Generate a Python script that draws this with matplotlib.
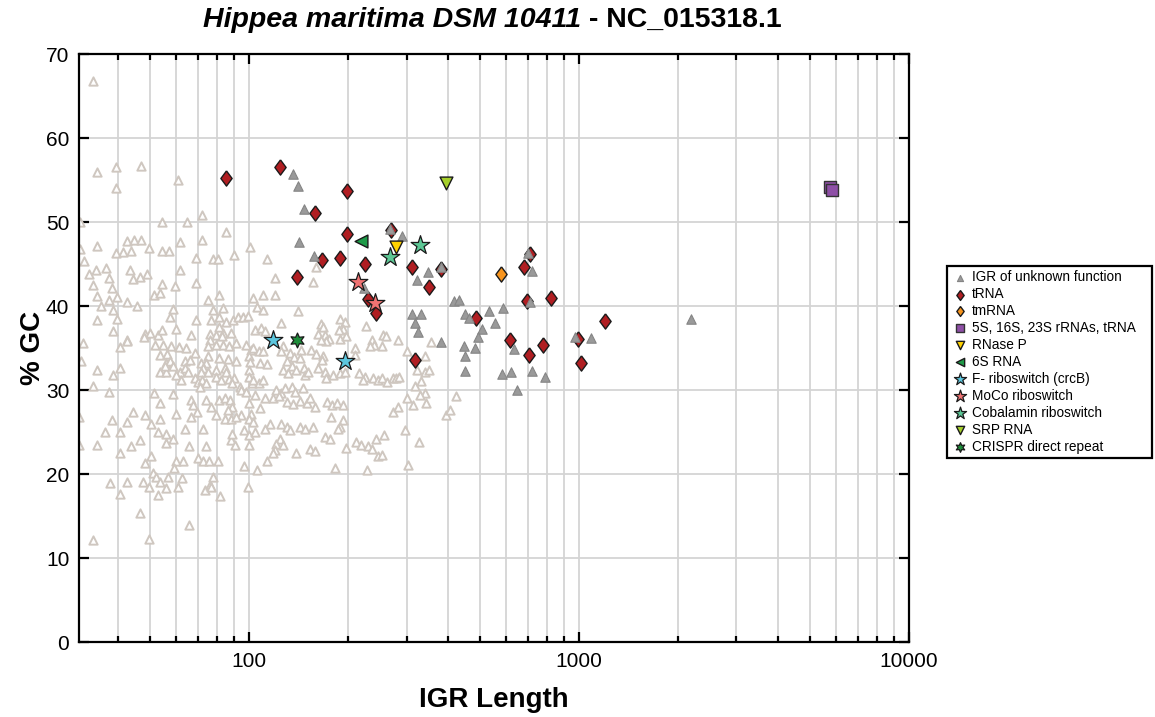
import matplotlib
matplotlib.use("Agg")
import matplotlib.pyplot as plt
from matplotlib.ticker import LogLocator, NullFormatter, FixedLocator, FixedFormatter

plt.rcParams['font.family'] = ['Liberation Sans', 'DejaVu Sans']

# ---------------------------------------------------------------------------
# Intergenic regions (IGR): length (nt) and % GC
# ---------------------------------------------------------------------------
# all intergenic regions of the genome (background cloud)
all_igr = [
    (33.6, 66.8), (34.6, 55.9), (39.6, 56.5), (46.9, 56.7), (39.6, 54.0), (60.9, 55.0),
    (30.7, 50.0), (54.6, 50.0), (65.0, 50.0), (72, 50.8), (84.8, 48.8),
    (30.7, 46.8), (34.6, 47.1), (42.5, 47.7), (44.7, 47.9), (46.9, 47.9),
    (39.6, 46.3), (41.5, 46.4), (43.8, 46.5), (49.7, 46.9), (54.6, 46.5), (57, 46.5),
    (61.9, 47.6), (72, 47.9), (100.7, 47.0),
    (31.6, 45.3), (68.8, 45.7), (77.6, 45.6), (80.4, 45.6), (89.9, 46.1),
    (34.4, 44.3), (36.7, 44.5), (32.7, 43.8), (43.5, 44.3), (37.7, 43.3), (44.5, 43.2),
    (46.6, 43.5), (48.9, 43.8), (61.9, 44.3),
    (33.6, 42.5), (38.5, 42.2), (54.6, 42.6), (59.8, 42.4), (68.8, 42.7),
    (34.6, 41.2), (39.8, 41.1), (37.7, 40.7), (42.7, 40.5), (35.5, 40.0), (45.8, 40.0),
    (51.5, 41.3), (53.8, 41.6), (58.7, 39.7), (75, 40.7), (81, 41.3), (77.6, 39.5),
    (83.2, 39.8), (38.7, 39.5),
    (34.6, 38.3), (39.8, 38.5), (57.7, 38.7), (68.8, 38.3), (76.8, 38.3), (81.3, 38.7),
    (84.8, 38.1), (89.3, 38.3), (92.4, 38.7), (95.6, 38.7), (99.1, 38.8),
    (38.7, 37.0), (48.3, 36.7), (50.1, 36.8), (52.9, 36.6), (54.6, 37.1), (60, 37.3),
    (66.8, 36.5), (76.2, 36.7), (79.3, 36.5), (83.2, 36.8), (88.2, 36.8), (81.3, 37.5),
    (42.5, 36.0),
    (113, 45.6), (119.8, 43.3), (159, 44.7), (156, 42.9),
    (103, 40.9), (105.5, 39.9), (110.5, 41.3), (120, 41.3), (110.5, 39.5),
    (141, 39.4), (125, 38.0), (165, 37.9), (167, 37.5), (188, 38.4), (195, 38.1),
    (193, 37.3), (226, 37.6), (104, 37.2), (109, 37.4), (112, 37.0),
    (48, 36.3), (83, 36.4), (75.9, 36.0), (31.4, 35.6), (42.7, 35.8), (40.6, 35.1),
    (51.9, 35.4), (54.8, 35.4), (58.1, 35.2), (61.4, 35.1), (64.2, 35.0),
    (75, 35.2), (79.5, 35.4), (83.2, 35.4), (86.8, 35.2), (91.5, 35.6), (97.9, 35.4),
    (101.4, 34.8),
    (68.3, 34.4), (53.7, 34.2), (56.4, 34.3), (55.9, 33.2), (57.4, 33.4), (63.9, 33.4),
    (66, 33.6), (75, 34.0), (74, 33.2),
    (81.3, 33.8), (86.2, 33.7), (91.3, 33.4), (100.2, 34.0), (100.7, 33.3),
    (30.9, 33.4), (34.6, 32.4), (38.7, 31.8), (40.6, 32.6),
    (53.7, 32.2), (56.1, 32.2), (58.7, 32.8), (55.5, 32.9),
    (61.7, 32.2), (63.9, 32.6), (65.3, 32.2),
    (71.6, 33.2), (72.6, 32.6), (75, 32.2), (71.6, 32.2),
    (79.5, 32.4), (84.2, 32.6), (85.2, 32.2), (100.2, 32.4),
    (33.6, 30.5), (37.7, 29.8), (51.5, 29.6), (58.7, 29.5),
    (60.1, 31.8), (62.1, 31.2), (68.3, 31.4), (69.9, 30.9), (72, 31.2), (74, 30.8),
    (71.1, 30.4), (79.5, 31.6), (82.2, 31.2), (86.8, 31.3), (89.9, 31.4), (88.8, 30.8),
    (93.5, 30.4), (100.2, 31.6), (102, 30.8), (94.5, 30.0), (97.9, 29.8),
    (66.8, 28.8), (73.8, 28.8), (76.8, 28.0), (81.3, 28.8), (84.2, 29.0), (87.6, 28.8),
    (88.8, 28.0), (86.2, 27.6),
    (53.7, 28.4), (60.1, 27.2), (67.7, 28.2), (69.4, 27.4), (66.8, 26.8),
    (100.2, 28.4), (101.4, 27.2), (94.5, 27.0), (100.2, 26.6), (102.7, 26.2),
    (79.5, 27.0), (84.2, 26.6), (88.2, 26.6), (91.3, 26.8),
    (44.5, 27.4), (48.3, 27.0), (38.5, 26.4), (42.5, 26.2), (50.4, 26.0), (53.7, 26.5),
    (36.5, 25.0), (40.6, 25.0), (52.9, 25.0), (55.9, 24.8), (63.9, 25.4), (72.6, 25.4),
    (88.2, 24.0), (90.9, 23.5), (88.8, 24.8), (96.7, 25.2), (100.2, 24.6), (100.2, 23.5),
    (34.6, 23.5), (43.8, 23.3), (46.6, 24.0), (55.9, 23.7), (58.7, 24.2), (65.7, 23.3),
    (74, 23.3),
    (40.6, 22.5), (50.4, 22.1), (48.3, 21.3),
    (60.1, 21.5), (59, 20.7), (63.1, 21.5),
    (69.9, 21.9), (72.6, 21.5), (75.6, 21.5), (80.4, 21.6), (96.7, 20.9),
    (37.9, 18.9), (42.7, 19.1), (51, 20.1), (52.3, 19.7), (53.7, 19.1), (56.8, 19.7),
    (47.7, 19.1), (49.7, 18.5), (55.9, 18.3), (52.9, 17.5), (60.9, 18.5), (62.5, 19.5),
    (73.3, 18.1), (75.9, 18.7), (77.6, 19.7), (76.8, 18.5), (81.7, 17.4), (99.1, 18.5),
    (40.6, 17.6), (46.6, 15.3), (65.7, 13.9), (33.6, 12.2), (49.7, 12.3),
    (30.5, 26.8), (30.5, 23.5),
    (162, 36.7), (170, 36.5), (175, 36.1), (171, 35.8), (165, 36.0),
    (187, 37.1), (188, 36.1), (197, 36.4),
    (255, 36.5), (260, 36.4), (283, 36.0),
    (235, 36.0), (239, 35.4), (232, 35.2), (252, 35.2), (210, 35.0), (209, 34.2),
    (103, 35.0), (107, 34.6), (110.5, 34.7), (127, 35.2), (125, 34.6),
    (144, 34.8), (154, 34.8), (160, 34.3), (168, 34.0), (166, 33.6), (133, 34.4),
    (137, 33.9), (143, 33.8),
    (108, 33.2), (113, 33.1),
    (130, 33.4), (135, 32.9), (127, 32.4), (131, 32.0), (139, 32.4), (147, 32.6),
    (148, 31.8), (151, 32.2),
    (162, 32.6), (170, 32.2), (180, 31.8), (171, 31.4), (188, 32.0), (195, 32.1),
    (216, 32.0), (224, 31.6), (221, 31.2),
    (237, 31.4), (246, 31.2), (253, 31.4), (262, 31.0), (272, 31.4), (279, 31.4),
    (285, 31.6),
    (103, 31.2), (107, 30.8), (110.5, 31.2),
    (121, 30.0), (125, 29.6), (128, 30.2), (135, 30.4), (138, 29.8), (146, 30.2),
    (112, 29.0), (118.5, 29.0), (123, 29.3), (104, 29.4), (108, 27.8),
    (130, 28.6), (136, 28.3), (143, 28.7), (150, 28.4), (158, 28.0), (153, 29.1),
    (172, 28.6), (178, 28.2), (185, 28.4), (193, 28.2),
    (177, 26.8), (193, 26.4), (188, 25.6),
    (125, 26.0), (130, 25.6), (133, 25.2), (116, 26.0), (112, 25.4), (104, 25.0),
    (143, 25.6), (148, 25.4), (156, 25.6),
    (124, 24.2), (121, 23.6), (127, 23.5), (120, 22.9), (118.5, 22.5), (113, 21.5),
    (105.5, 20.5),
    (153, 23.0), (158, 22.7), (139, 22.5),
    (170, 24.4), (176, 24.2), (186, 25.4), (197, 23.1),
    (211, 23.8), (219, 23.5), (229, 23.3), (235, 23.0), (242, 24.2), (256, 24.6),
    (246, 22.1), (253, 22.3),
    (297, 25.2), (328, 23.8), (304, 21.1), (182, 20.7), (227, 20.5),
    (272, 27.4), (283, 28.0), (344, 28.4), (314, 28.2), (300, 29.0),
    (319, 30.5), (331, 31.1), (342, 32.1), (341, 29.6), (300, 34.6), (323, 32.4),
    (357, 35.7), (342, 34.0), (352, 32.4), (424, 29.3), (395, 27.0), (405, 27.6),
    (330, 29.4),
]
all_igr_len = [p[0] for p in all_igr]
all_igr_gc = [p[1] for p in all_igr]

# IGRs of unknown function
unk_len = [136, 141, 147, 142, 157, 268, 291, 348, 323, 223, 382, 417, 432, 311, 331,
           319, 325, 381, 450, 465, 535, 557, 508, 493, 447, 483, 450, 450, 588, 633,
           586, 624, 720, 791, 648, 975, 1090, 2180, 698, 722, 711]
unk_gc = [55.7, 54.3, 51.5, 47.6, 45.9, 49.2, 48.3, 44.1, 43.1, 42.1, 44.6, 40.6, 40.7,
          39.0, 39.1, 38.0, 36.9, 35.7, 39.1, 38.6, 39.4, 38.0, 37.3, 36.3, 35.2, 35.0,
          34.1, 32.3, 39.8, 34.9, 31.9, 32.2, 32.3, 31.6, 30.0, 36.3, 36.2, 38.4, 46.3,
          44.2, 40.5]

# annotated non-coding RNAs
trna_len = [85, 124, 158, 166, 140, 188, 198, 198, 224, 230, 242, 270, 312, 350, 318,
            488, 382, 711, 682, 696, 823, 617, 707, 780, 996, 1013, 1200]
trna_gc = [55.2, 56.5, 51.1, 45.5, 43.5, 45.7, 53.7, 48.6, 45.0, 40.8, 39.2, 49.1, 44.6,
           42.3, 33.6, 38.6, 44.4, 46.2, 44.6, 40.6, 41.0, 36.0, 34.2, 35.4, 36.1, 33.2,
           38.2]

tmrna_len, tmrna_gc = [578], [43.8]
rrna_len, rrna_gc = [5750, 5850], [54.2, 53.8]
rnasep_len, rnasep_gc = [278], [47.0]
s6_len, s6_gc = [218], [47.7]
fsw_len, fsw_gc = [118, 195], [35.9, 33.5]
moco_len, moco_gc = [214, 240], [42.8, 40.3]
cobal_len, cobal_gc = [268, 330], [45.8, 47.3]
srp_len, srp_gc = [396], [54.6]
crispr_len, crispr_gc = [140], [36.0]

# ---------------------------------------------------------------------------
fig = plt.figure(figsize=(11.55, 7.17), dpi=100)
ax = fig.add_axes([79 / 1155, 75 / 717, 830 / 1155, 588 / 717])

ax.set_xscale('log')
ax.set_xlim(30.5, 10000)
ax.set_ylim(0, 70)

grid_col = '#D4D4D4'
ax.grid(True, which='major', axis='both', color=grid_col, linewidth=1.3)
ax.grid(True, which='minor', axis='x', color=grid_col, linewidth=1.3)
ax.set_axisbelow(True)

# slightly elongated diamond used for tRNA / tmRNA
diamond = [(0, 1), (0.74, 0), (0, -1), (-0.74, 0), (0, 1)]

# background: every intergenic region
ax.scatter(all_igr_len, all_igr_gc, marker='^', s=36, facecolors='white',
           edgecolors='#CFC7C0', linewidths=1.4, zorder=2)

ax.scatter(trna_len, trna_gc, marker=diamond, s=120, facecolor='#B01E22',
           edgecolor='#1A1A1A', linewidths=1.0, zorder=4, label='tRNA')
ax.scatter(unk_len, unk_gc, marker='^', s=46, facecolor='#9A9A9A',
           edgecolor='#858585', linewidths=0.8, zorder=5,
           label='IGR of unknown function')
ax.scatter(tmrna_len, tmrna_gc, marker=diamond, s=120, facecolor='#F7941D',
           edgecolor='#1A1A1A', linewidths=1.0, zorder=6, label='tmRNA')
ax.scatter(rrna_len, rrna_gc, marker='s', s=75, facecolor='#8E4FA6',
           edgecolor='#333333', linewidths=1.0, zorder=6,
           label='5S, 16S, 23S rRNAs, tRNA')
ax.scatter(rnasep_len, rnasep_gc, marker='v', s=85, facecolor='#FFD200',
           edgecolor='#1A1A1A', linewidths=1.0, zorder=6, label='RNase P')
ax.scatter(s6_len, s6_gc, marker='<', s=85, facecolor='#1E9A48',
           edgecolor='#1A1A1A', linewidths=1.0, zorder=6, label='6S RNA')
ax.scatter(fsw_len, fsw_gc, marker='*', s=200, facecolor='#5CC6DE',
           edgecolor='#1A1A1A', linewidths=0.9, zorder=6,
           label='F- riboswitch (crcB)')
ax.scatter(moco_len, moco_gc, marker='*', s=200, facecolor='#F07373',
           edgecolor='#1A1A1A', linewidths=0.9, zorder=6, label='MoCo riboswitch')
ax.scatter(cobal_len, cobal_gc, marker='*', s=200, facecolor='#5CC795',
           edgecolor='#1A1A1A', linewidths=0.9, zorder=6,
           label='Cobalamin riboswitch')
ax.scatter(srp_len, srp_gc, marker='v', s=85, facecolor='#A5CF2A',
           edgecolor='#1A1A1A', linewidths=1.0, zorder=6, label='SRP RNA')
ax.scatter(crispr_len, crispr_gc, marker=(6, 1, 0), s=115, facecolor='#1E8C3A',
           edgecolor='#1A1A1A', linewidths=0.9, zorder=6,
           label='CRISPR direct repeat')

# axes, ticks
ax.xaxis.set_major_locator(FixedLocator([100, 1000, 10000]))
ax.xaxis.set_major_formatter(FixedFormatter(['100', '1000', '10000']))
ax.xaxis.set_minor_locator(LogLocator(base=10, subs=range(2, 10)))
ax.xaxis.set_minor_formatter(NullFormatter())
ax.set_yticks(range(0, 71, 10))

ax.tick_params(which='both', direction='in', top=True, right=True,
               width=1.6, colors='black', labelsize=15)
ax.tick_params(which='major', length=7, pad=7)
ax.tick_params(which='minor', length=4.5)
for sp in ax.spines.values():
    sp.set_linewidth(1.6)
    sp.set_color('black')

ax.set_xlabel('IGR Length', fontsize=20, fontweight='bold', labelpad=12)
ax.set_ylabel('% GC', fontsize=20, fontweight='bold', labelpad=0)

# title: organism name in bold italic, accession in bold
ty = 1 - 20 / 717
t1 = fig.text(203 / 1155, ty, 'Hippea maritima DSM 10411', fontsize=20.5,
              fontweight='bold', fontstyle='italic', va='center', ha='left')
fig.canvas.draw()
bb = t1.get_window_extent()
fig.text(bb.x1 / fig.bbox.width, ty, ' - NC_015318.1', fontsize=20.5,
         fontweight='bold', va='center', ha='left')

# legend outside, right of the plot
handles, labels = ax.get_legend_handles_labels()
order = ['IGR of unknown function', 'tRNA', 'tmRNA', '5S, 16S, 23S rRNAs, tRNA',
         'RNase P', '6S RNA', 'F- riboswitch (crcB)', 'MoCo riboswitch',
         'Cobalamin riboswitch', 'SRP RNA', 'CRISPR direct repeat']
hmap = dict(zip(labels, handles))
leg = fig.legend([hmap[k] for k in order], order, loc='upper left',
                 bbox_to_anchor=(947 / 1155, 1 - 457 / 717, 205 / 1155, 191 / 717),
                 mode='expand', fontsize=9.8,
                 markerscale=0.65, frameon=True, fancybox=False, edgecolor='black',
                 framealpha=1, handletextpad=0.25, labelspacing=0.22,
                 borderpad=0.3, handlelength=1.3, borderaxespad=0)
leg.get_frame().set_linewidth(1.6)

fig.savefig('out.png', dpi=100)
